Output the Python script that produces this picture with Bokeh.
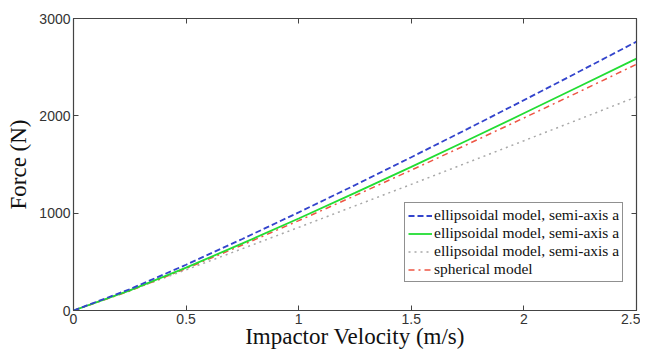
from bokeh.plotting import figure
from bokeh.models import Range1d, LinearAxis, Legend, LegendItem, FixedTicker
from bokeh.embed import file_html
from bokeh.resources import INLINE

velocity = [0, 0.25, 0.5, 0.75, 1.0, 1.25, 1.5, 1.75, 2.0, 2.25, 2.5]
ellip_a1 = [0, 219, 470, 735, 1008, 1288, 1575, 1866, 2161, 2460, 2762]
ellip_a2 = [0, 206, 441, 689, 945, 1208, 1476, 1749, 2026, 2306, 2588]
ellip_a3 = [0, 205, 418, 635, 854, 1075, 1296, 1520, 1744, 1969, 2195]
spherical = [0, 201, 431, 673, 923, 1180, 1442, 1708, 1978, 2252, 2530]

labels = ["ellipsoidal model, semi-axis a", "ellipsoidal model, semi-axis a",
          "ellipsoidal model, semi-axis a", "spherical model"]
x_ticks = [0, 0.5, 1, 1.5, 2, 2.5]
y_ticks = [0, 1000, 2000, 3000]

p = figure(output_backend="svg", toolbar_location=None,
           x_range=Range1d(0, 2.5), y_range=Range1d(0, 3000),
           min_border_left=73, min_border_right=4, min_border_top=18, min_border_bottom=10)
p.frame_width = 563
p.frame_height = 292
p.grid.visible = False
p.outline_line_color = "#444444"
p.outline_line_width = 1.2
p.background_fill_color = "white"

axis_color = "#444444"
for ax in [p.xaxis[0], p.yaxis[0]]:
    ax.major_tick_in = 5
    ax.major_tick_out = 0
    ax.minor_tick_line_color = None
    ax.axis_line_color = axis_color
    ax.major_tick_line_color = axis_color
    ax.major_label_text_font = "Liberation Sans"
    ax.major_label_text_font_size = "14px"
    ax.major_label_text_color = "#333333"
    ax.axis_label_text_font = "Liberation Serif"
    ax.axis_label_text_font_size = "23px"
    ax.axis_label_text_font_style = "normal"
    ax.axis_label_text_color = "#111111"
p.xaxis[0].ticker = FixedTicker(ticks=x_ticks)
p.yaxis[0].ticker = FixedTicker(ticks=y_ticks)
p.xaxis[0].axis_label = "Impactor Velocity (m/s)"
p.yaxis[0].axis_label = "Force (N)"
p.xaxis[0].axis_label_standoff = -3
p.yaxis[0].axis_label_standoff = 5
p.xaxis[0].major_label_standoff = 3
p.yaxis[0].major_label_standoff = 3

top = LinearAxis(ticker=FixedTicker(ticks=x_ticks), major_tick_in=5, major_tick_out=0,
                 minor_tick_line_color=None,
                 major_label_overrides={t: "" for t in x_ticks},
                 axis_line_color=axis_color, major_tick_line_color=axis_color,
                 major_label_standoff=0)
right = LinearAxis(ticker=FixedTicker(ticks=y_ticks), major_tick_in=5, major_tick_out=0,
                   minor_tick_line_color=None,
                   major_label_overrides={t: "" for t in y_ticks},
                   axis_line_color=axis_color, major_tick_line_color=axis_color,
                   major_label_standoff=0)
p.add_layout(top, "above")
p.add_layout(right, "right")

r_gray = p.line(velocity, ellip_a3, line_color="#a8a8a8", line_width=1.5, line_dash="dotted")
r_red = p.line(velocity, spherical, line_color="#ee5544", line_width=1.5, line_dash="dashdot")
r_green = p.line(velocity, ellip_a2, line_color="#22dd33", line_width=1.8)
r_blue = p.line(velocity, ellip_a1, line_color="#3344cc", line_width=1.8, line_dash="6 3")

legend = Legend(items=[LegendItem(label=labels[0], renderers=[r_blue]),
                       LegendItem(label=labels[1], renderers=[r_green]),
                       LegendItem(label=labels[2], renderers=[r_gray]),
                       LegendItem(label=labels[3], renderers=[r_red])],
                location=(331, 28))
legend.label_text_font = "Liberation Serif"
legend.label_text_font_size = "15.5px"
legend.label_text_color = "#111111"
legend.label_height = 17
legend.glyph_height = 17
legend.glyph_width = 24
legend.label_standoff = 2
legend.spacing = 0
legend.padding = 3
legend.margin = 0
legend.border_line_color = "#222222"
legend.border_line_width = 1
legend.background_fill_alpha = 1
p.add_layout(legend, "center")

open("out.html", "w").write(file_html(p, INLINE))
